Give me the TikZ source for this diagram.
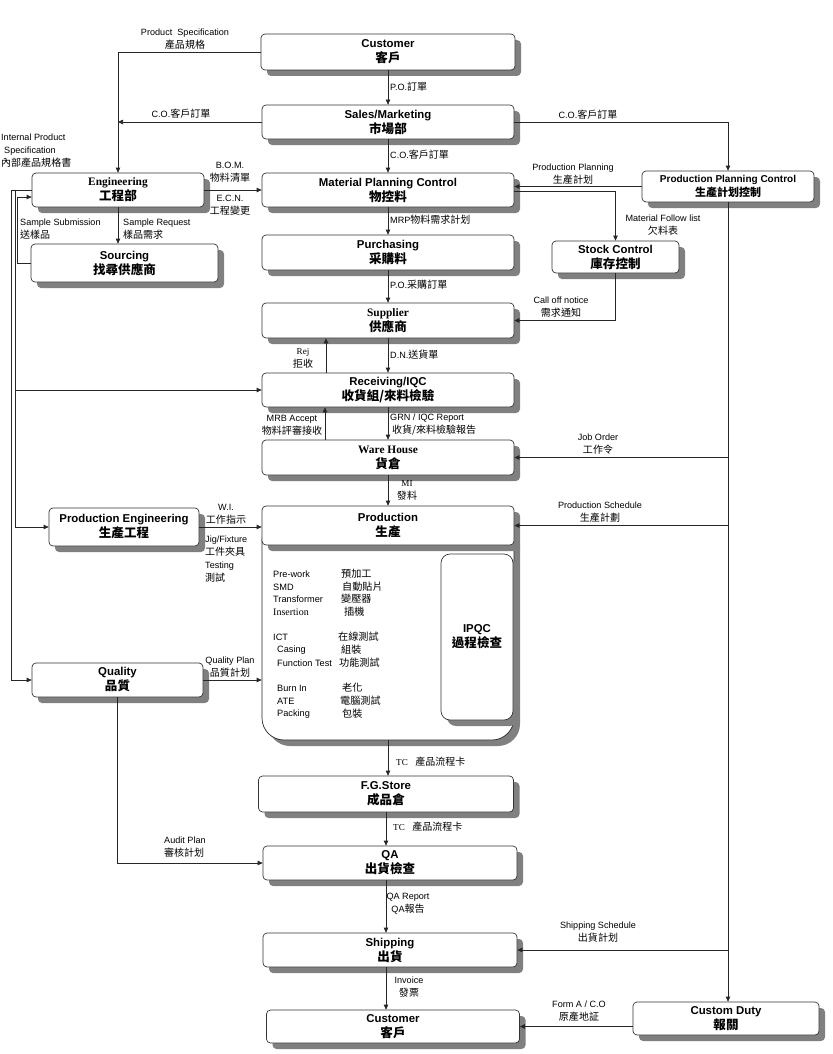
\documentclass[tikz,border=0pt]{standalone}
\usepackage{fontspec}
\setmainfont{Liberation Sans}
\newfontfamily\zhfont{Noto Sans CJK TC}[Scale=1.1]
\newfontfamily\tnr{Liberation Serif}
\newcommand{\zh}[1]{{\zhfont #1}}
\usetikzlibrary{positioning,shadows,arrows.meta}

\tikzset{
  box/.style={draw=black!80, line width=0.7pt, rounded corners=4pt, fill=white,
    drop shadow={shadow xshift=6pt, shadow yshift=-6pt, fill=black!50, opacity=1},
    align=center, inner sep=0pt, font=\bfseries\fontsize{11.4}{15}\selectfont},
  wh/.style 2 args={minimum width=#1, minimum height=#2},
  lbl/.style={font=\fontsize{9.1}{13}\selectfont, align=center, inner sep=0pt},
  item/.style={font=\fontsize{9.2}{13}\selectfont, anchor=west, inner sep=0pt},
  arr/.style={-{Triangle[length=5pt,width=4.5pt]}, line width=0.7pt, black!85},
  wire/.style={line width=0.7pt, black!85},
}

\begin{document}
\begin{tikzpicture}[x=1pt, y=-1pt]
        \useasboundingbox (0,0) rectangle (832,1054);
        % Production body (drawn first, header sits on it)
        \draw[wire, fill=white, rounded corners=22pt,
          drop shadow={shadow xshift=6pt, shadow yshift=-6pt, fill=black!50, opacity=1}]
          (262,518) -- (262,740) -- (514,740) -- (514,518) -- cycle;
        \coordinate (prodbot) at (388,740);

        % Centre column
        \node[box, wh={254}{36}] (cust) at (388,52) {Customer\\\zh{客戶}};
        \node[box, wh={252}{34}] (sales) at (388,122) {Sales/Marketing\\\zh{市場部}};
        \node[box, wh={252}{34}] (mpc) at (388,190) {Material Planning Control\\\zh{物控料}};
        \node[box, wh={252}{35}] (purch) at (388,252.5) {Purchasing\\\zh{采購料}};
        \node[box, wh={252}{35}] (supp) at (388,320.5) {{\tnr\bfseries Supplier}\\\zh{供應商}};
        \node[box, wh={252}{34}] (recv) at (388,390) {Receiving/IQC\\\zh{收貨組/來料檢驗}};
        \node[box, wh={252}{35}] (ware) at (388,457.5) {{\tnr\bfseries Ware House}\\\zh{貨倉}};
        \node[box, wh={252}{39}] (prod) at (388,525.5) {Production\\\zh{生產}};
        \node[box, wh={72}{166}, rounded corners=9pt] (ipqc) at (477,637) {IPQC\\\zh{過程檢查}};
        \node[box, wh={255}{36}] (fg) at (386,794) {F.G.Store\\\zh{成品倉}};
        \node[box, wh={254}{34}] (qa) at (390,863) {QA\\\zh{出貨檢查}};
        \node[box, wh={254}{34}] (ship) at (390,950) {Shipping\\\zh{出貨}};
        \node[box, wh={253}{33}] (cust2) at (393,1026.5) {Customer\\\zh{客戶}};

        % Left column
        \node[box, wh={172}{34}] (eng) at (118,190) {{\tnr\bfseries Engineering}\\\zh{工程部}};
        \node[box, wh={187}{38}] (sourc) at (124.5,263) {Sourcing\\\zh{找尋供應商}};
        \node[box, wh={150}{38}] (peng) at (124,527) {Production Engineering\\\zh{生產工程}};
        \node[box, wh={171}{34}] (qual) at (117.5,680) {Quality\\\zh{品質}};

        % Right column
        \node[box, wh={172}{31}, font=\bfseries\fontsize{10}{14}\selectfont] (ppc) at (728,186.5) {Production Planning Control\\\zh{生產計划控制}};
        \node[box, wh={127}{32}] (stock) at (615.5,257) {Stock Control\\\zh{庫存控制}};
        \node[box, wh={186}{33}] (duty) at (726,1018.5) {Custom Duty\\\zh{報關}};

        % Production steps
        \foreach \en/\ch/\yy/\xa/\xb [count=\i] in {
            Pre-work/預加工/574/273/341, SMD/自動貼片/587/273/342,
            Transformer/變壓器/599/273/341, {\tnr\fontsize{10}{13}\selectfont Insertion}/插機/612/273/344,
            ICT/在線測試/637/273/338, Casing/組裝/650/277/341,
            Function Test/功能測試/663/277/339, Burn In/老化/688/277/342,
            ATE/電腦測試/701/277/340, Packing/包裝/714/277/342} {
            \node[item] (pe\i) at (\xa,\yy) {\en};
            \node[item] (pc\i) at (\xb,\yy) {\zh{\ch}};
        }

        % Centre flow
        \draw[arr] (cust) -- (sales);
        \draw[arr] (sales) -- (mpc);
        \draw[arr] (mpc) -- (purch);
        \draw[arr] (purch) -- (supp);
        \draw[arr] (supp) -- (recv);
        \draw[arr] ([xshift=-62pt]recv.north) -- ([xshift=-62pt]supp.south);
        \draw[arr] (recv) -- (ware);
        \draw[arr] ([xshift=-63pt]ware.north) -- ([xshift=-63pt]recv.south);
        \draw[arr] (ware) -- (prod);
        \draw[arr] (prodbot) -- (prodbot |- fg.north);
        \draw[arr] (fg.south) -- (fg.south |- qa.north);
        \draw[arr] (qa.south -| fg.south) -- (fg.south |- ship.north);
        \draw[arr] (ship.south -| fg.south) -- (fg.south |- cust2.north);

        % Customer / sales to engineering and planning
        \draw[arr] (cust.west) -| (eng.north);
        \draw[arr] (sales.west) -- (sales.west -| eng.north);
        \draw[arr] (sales.east) -| (ppc.north);
        \draw[arr] (eng) -- (mpc);
        \draw[arr] (ppc.west) -- (ppc.west -| mpc.east);
        \draw[arr] ([yshift=-1.5pt]mpc.east) -| (stock.north);
        \draw[arr] (stock.south) |- (supp.east);

        % Planning down the right side
        \draw[arr] (ppc.south) -- (ppc.south |- duty.north);
        \draw[arr] (ppc.south |- ware.east) -- (ware.east);
        \draw[arr] (ppc.south |- prod.east) -- (prod.east);
        \draw[arr] (ppc.south |- ship.east) -- (ship.east);
        \draw[arr] (duty.west |- cust2.east) -- (cust2.east);

        % Engineering feeds on the left
        \draw[arr] (eng.west) -- ++(-20,0) |- (qual.west);
        \draw[arr] (eng.west) -- ++(-16,0) |- (peng.west);
        \draw[arr] ([xshift=-16pt]eng.west |- recv.west) -- (recv.west);
        \draw[arr] (sourc.west) -- ++(-13,0) |- ([yshift=-7pt]eng.west);
        \draw[arr] (eng.south) -- (eng.south |- sourc.north);
        \draw[arr] (peng.east) -- (peng.east -| prod.west);
        \draw[arr] (qual.east) -- (qual.east -| prod.west);
        \draw[arr] (qual.south) |- (qa.west);

        % Labels
        \node[lbl] (lps) at (185,39) {Product\ \ Specification\\\zh{產品規格}};
        \node[lbl] (lco1) at (181,114) {C.O.\zh{客戶訂單}};
        \node[lbl, anchor=west, align=left] (lips) at (1,151) {Internal Product\\\hspace{3pt}Specification\\\zh{內部產品規格書}};
        \node[lbl, anchor=west] (lpo) at (390,87) {P.O.\zh{訂單}};
        \node[lbl, anchor=west] (lco2) at (390,155) {C.O.\zh{客戶訂單}};
        \node[lbl] (lco3) at (588,115) {C.O.\zh{客戶訂單}};
        \node[lbl] (lbom) at (230,172) {B.O.M.\\\zh{物料清單}};
        \node[lbl] (lecn) at (230,205) {E.C.N.\\\zh{工程變更}};
        \node[lbl] (lpp) at (573,174) {Production Planning\\\zh{生產計划}};
        \node[lbl] (lmfl) at (663,225) {Material Follow list\\\zh{欠料表}};
        \node[lbl, anchor=west] (lmrp) at (390,220) {MRP\zh{物料需求計划}};
        \node[lbl, anchor=west] (lpo2) at (390,285) {P.O.\zh{采購訂單}};
        \node[lbl] (lcall) at (561,307) {Call off notice\\\zh{需求通知}};
        \node[lbl, anchor=west] (ldn) at (390,355) {D.N.\zh{送貨單}};
        \node[lbl] (lrej) at (303,358) {{\tnr Rej}\\\zh{拒收}};
        \node[lbl, anchor=west, align=left] (lgrn) at (390,425) {GRN / IQC Report\\\hspace{2pt}\zh{收貨/來料檢驗報告}};
        \node[lbl] (lmrb) at (292,425) {MRB Accept\\\zh{物料評審接收}};
        \node[lbl] (lmi) at (407,490) {{\tnr MI}\\\zh{發料}};
        \node[lbl] (ljob) at (598,444) {Job Order\\\zh{工作令}};
        \node[lbl] (lsched) at (600,512) {Production Schedule\\\zh{生產計劃}};
        \node[lbl] (lwi) at (226,514) {W.I.\\\zh{工作指示}};
        \node[lbl, anchor=west, align=left] (ljig) at (205,559) {Jig/Fixture\\\zh{工件夾具}\\Testing\\\zh{測試}};
        \node[lbl] (lqp) at (230,667) {Quality Plan\\\zh{品質計划}};
        \node[lbl, anchor=west] (ltc1) at (396,762) {{\tnr TC}\ \ \ \zh{產品流程卡}};
        \node[lbl, anchor=west] (ltc2) at (393,827) {{\tnr TC}\ \ \ \zh{產品流程卡}};
        \node[lbl, anchor=west, align=left] (laudit) at (164,847) {Audit Plan\\\zh{審核計划}};
        \node[lbl] (lqar) at (408,904) {QA Report\\QA\zh{報告}};
        \node[lbl] (linv) at (409,987) {Invoice\\\zh{發票}};
        \node[lbl] (lss) at (598,932) {Shipping Schedule\\\zh{出貨計划}};
        \node[lbl] (lform) at (579,1011) {Form A / C.O\\\zh{原產地証}};
        \node[lbl, anchor=west, align=left] (lsub) at (20,229) {Sample Submission\\\zh{送樣品}};
        \node[lbl, anchor=west, align=left] (lreq) at (123,229) {Sample Request\\\zh{樣品需求}};
\end{tikzpicture}
\end{document}
